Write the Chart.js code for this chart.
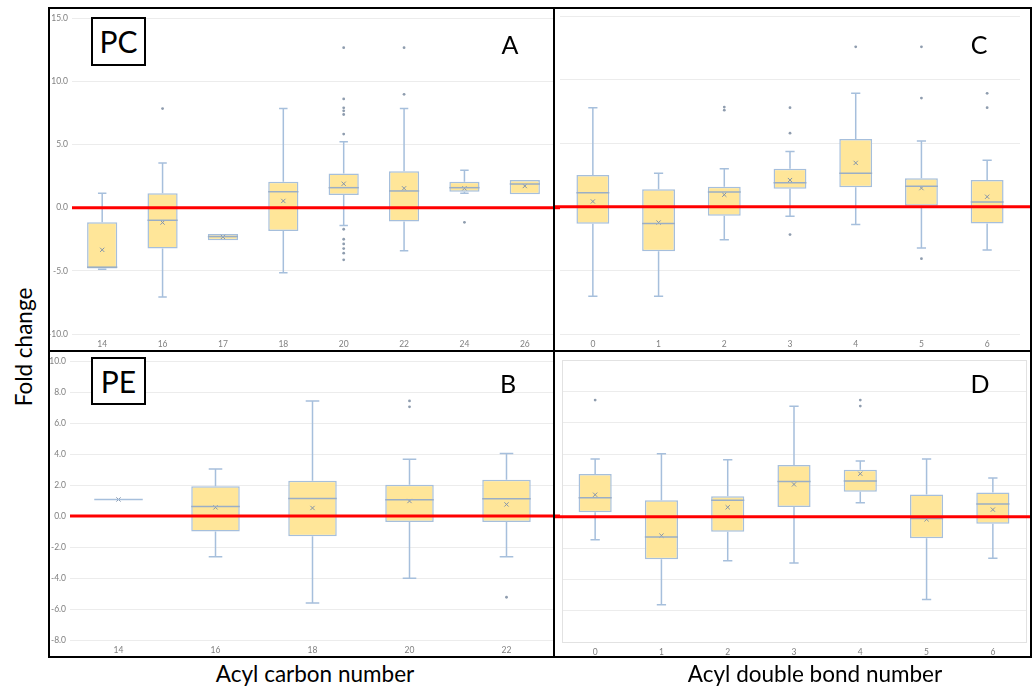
<!DOCTYPE html>
<html>
<head>
<meta charset="utf-8">
<script src="https://cdn.jsdelivr.net/npm/chart.js@4.4.1/dist/chart.umd.min.js"></script>
<style>
  body { margin: 0; background: #fff; width: 1036px; height: 687px; position: relative; overflow: hidden; font-family: Lato, "Open Sans", sans-serif; }
  canvas { position: absolute; }
  .rule { position: absolute; background: #000; z-index: 5; }
  .tag { position: absolute; border: 2px solid #000; box-sizing: border-box; font-size: 30px; line-height: 44px; text-align: center; background: #fff; z-index: 4; }
  .letter { position: absolute; font-size: 25px; line-height: 1; transform: translate(-50%, -50%); z-index: 4; }
  .title { position: absolute; font-size: 22.5px; line-height: 1; white-space: nowrap; transform: translate(-50%, -50%); }
</style>
</head>
<body>
<canvas id="chartA" width="510" height="341" style="left:50px;top:9px"></canvas>
<canvas id="chartC" width="476" height="341" style="left:555px;top:9px"></canvas>
<canvas id="chartB" width="510" height="305" style="left:50px;top:352px"></canvas>
<canvas id="chartD" width="476" height="305" style="left:555px;top:352px"></canvas>

<!-- panel frame -->
<div class="rule" style="left:48px;top:7px;width:984px;height:2px"></div>
<div class="rule" style="left:48px;top:656px;width:984px;height:2px"></div>
<div class="rule" style="left:48px;top:7px;width:2px;height:651px"></div>
<div class="rule" style="left:1030px;top:7px;width:2px;height:651px"></div>
<div class="rule" style="left:553px;top:7px;width:2px;height:651px"></div>
<div class="rule" style="left:48px;top:350px;width:984px;height:2px"></div>

<div class="tag" style="left:91px;top:17px;width:55px;height:49px">PC</div>
<div class="tag" style="left:91px;top:357px;width:55px;height:48px">PE</div>
<div class="letter" style="left:510px;top:44px">A</div>
<div class="letter" style="left:979px;top:44px">C</div>
<div class="letter" style="left:508px;top:383px">B</div>
<div class="letter" style="left:980px;top:383px">D</div>

<div class="title" style="left:24px;top:347px;transform:translate(-50%,-50%) rotate(-90deg)">Fold change</div>
<div class="title" style="left:315px;top:674px">Acyl carbon number</div>
<div class="title" style="left:815px;top:674px">Acyl double bond number</div>

<script>
// --- Panel A: PC by acyl carbon number ---
const pcCarbonLabels = ['14', '16', '17', '18', '20', '22', '24', '26'];
const pcCarbonLow    = [-4.87, -7.08, -2.58, -5.16, -1.42, -3.42, 1.13, 1.05];
const pcCarbonQ1     = [-4.82, -3.24, -2.58, -1.84, 1.00, -1.10, 1.26, 1.05];
const pcCarbonMedian = [-4.71, -1.00, -2.29, 1.26, 1.58, 1.32, 1.58, 1.87];
const pcCarbonQ3     = [-1.16, 1.13, -2.08, 2.05, 2.71, 2.87, 2.05, 2.18];
const pcCarbonHigh   = [1.13, 3.53, -2.08, 7.84, 5.21, 7.84, 2.95, 2.18];
const pcCarbonMean   = [-3.34, -1.18, -2.32, 0.53, 1.89, 1.53, 1.53, 1.71];
const pcCarbonOutliers = [[], [7.84], [], [], [12.66, 8.6, 7.9, 7.66, 7.37, 5.82, -1.71, -2.5, -2.87, -3.24, -3.6, -4.13], [12.66, 8.97], [-1.16], []];

// --- Panel C: PC by acyl double bond number ---
const pcBondLabels = ['0', '1', '2', '3', '4', '5', '6'];
const pcBondLow    = [-7.03, -7.03, -2.60, -0.74, -1.39, -3.24, -3.39];
const pcBondQ1     = [-1.34, -3.50, -0.71, 1.42, 1.53, 0.08, -1.32];
const pcBondMedian = [1.10, -1.32, 1.16, 1.89, 2.63, 1.61, 0.37];
const pcBondQ3     = [2.50, 1.37, 1.58, 3.00, 5.34, 2.24, 2.10];
const pcBondHigh   = [7.79, 2.63, 3.00, 4.34, 8.92, 5.18, 3.66];
const pcBondMean   = [0.42, -1.24, 0.95, 2.10, 3.45, 1.47, 0.79];
const pcBondOutliers = [[], [], [7.84, 7.6], [7.79, 5.79, -2.18], [12.58], [12.58, 8.55, -4.08], [8.92, 7.79]];

// --- Panel B: PE by acyl carbon number ---
const peCarbonLabels = ['14', '16', '18', '20', '22'];
const peCarbonLow    = [1.07, -2.62, -5.61, -4.02, -2.62];
const peCarbonQ1     = [1.07, -0.99, -1.31, -0.39, -0.39];
const peCarbonMedian = [1.07, 0.62, 1.14, 1.05, 1.12];
const peCarbonQ3     = [1.07, 1.93, 2.28, 2.02, 2.34];
const peCarbonHigh   = [1.07, 3.03, 7.43, 3.67, 4.04];
const peCarbonMean   = [1.07, 0.56, 0.52, 0.97, 0.75];
const peCarbonOutliers = [[], [], [], [7.43, 7.05], [-5.24]];

// --- Panel D: PE by acyl double bond number ---
const peBondLabels = ['0', '1', '2', '3', '4', '5', '6'];
const peBondLow    = [-1.47, -5.63, -2.81, -2.95, 0.89, -5.29, -2.66];
const peBondQ1     = [0.28, -2.72, -0.96, 0.62, 1.59, -1.38, -0.45];
const peBondMedian = [1.21, -1.30, 1.04, 2.25, 2.27, -0.11, 0.81];
const peBondQ3     = [2.72, 1.04, 1.30, 3.29, 3.00, 1.42, 1.55];
const peBondHigh   = [3.68, 4.02, 3.63, 7.04, 3.55, 3.68, 2.47];
const peBondMean   = [1.40, -1.21, 0.60, 2.06, 2.74, -0.17, 0.45];
const peBondOutliers = [[7.44], [], [], [], [7.44, 7.06], [], []];

// reference line (no change)
const zeroLine = 0;

const BOX_FILL = '#ffe699';
const BOX_EDGE = '#a6bfdc';
const MEDIAN_EDGE = '#9aaec6';
const MEAN_COLOR = '#8394ab';
const DOT_COLOR = '#8e9cae';
const GRID_COLOR = '#ececec';
const TICK_COLOR = '#808080';

// Draws whiskers, caps, medians and the red zero line using the chart scales
const makeBoxPlugin = (p) => ({
    id: 'boxParts',
    beforeDatasetsDraw(chart) {
        const { ctx } = chart;
        const x = chart.scales.x, y = chart.scales.y;
        const bars = chart.getDatasetMeta(0).data;
        ctx.save();
        ctx.strokeStyle = BOX_EDGE;
        ctx.lineWidth = 1.5;
        p.labels.forEach((lab, i) => {
            const cx = x.getPixelForValue(i);
            const cap = bars[i].width * 0.14;
            [[p.q3[i], p.high[i]], [p.q1[i], p.low[i]]].forEach(([from, to]) => {
                if (Math.abs(from - to) < 0.001) return;
                const y0 = y.getPixelForValue(from), y1 = y.getPixelForValue(to);
                ctx.beginPath();
                ctx.moveTo(cx, y0);
                ctx.lineTo(cx, y1);
                ctx.moveTo(cx - cap, y1);
                ctx.lineTo(cx + cap, y1);
                ctx.stroke();
            });
        });
        ctx.restore();
    },
    afterDatasetsDraw(chart) {
        const { ctx, chartArea } = chart;
        const x = chart.scales.x, y = chart.scales.y;
        const bars = chart.getDatasetMeta(0).data;
        ctx.save();
        // median lines
        ctx.lineWidth = 1.5;
        p.labels.forEach((lab, i) => {
            const cx = x.getPixelForValue(i);
            const hw = bars[i].width / 2;
            const ym = y.getPixelForValue(p.median[i]);
            ctx.strokeStyle = (p.q1[i] === p.q3[i]) ? BOX_EDGE : MEDIAN_EDGE;
            ctx.beginPath();
            ctx.moveTo(cx - hw, ym);
            ctx.lineTo(cx + hw, ym);
            ctx.stroke();
        });
        // plot outline (panel D only)
        if (p.outline) {
            ctx.strokeStyle = '#e2e2e2';
            ctx.lineWidth = 1;
            ctx.strokeRect(chartArea.left + 0.5, chartArea.top + 0.5, chartArea.width, chartArea.height);
        }
        // red zero line
        const yz = y.getPixelForValue(zeroLine);
        ctx.strokeStyle = '#ff0000';
        ctx.lineWidth = 3;
        ctx.beginPath();
        ctx.moveTo(p.redFromEdge ? 0 : chartArea.left, yz);
        ctx.lineTo(chart.width, yz);
        ctx.stroke();
        ctx.restore();
    }
});

const drawPanel = (canvasId, p) => {
    const outlierPoints = [];
    p.outliers.forEach((vals, i) => vals.forEach(v => outlierPoints.push({ x: p.labels[i], y: v })));

    new Chart(document.getElementById(canvasId), {
        data: {
            labels: p.labels,
            datasets: [
                {
                    type: 'bar',
                    data: p.q1.map((v, i) => [v, p.q3[i]]),
                    backgroundColor: BOX_FILL,
                    borderColor: BOX_EDGE,
                    borderWidth: 1.5,
                    borderSkipped: false,
                    barPercentage: 0.5,
                    categoryPercentage: 1.0,
                    order: 3
                },
                {
                    type: 'line',
                    data: p.mean.map((v, i) => ({ x: p.labels[i], y: v })),
                    showLine: false,
                    pointStyle: 'crossRot',
                    pointRadius: 3,
                    borderColor: MEAN_COLOR,
                    borderWidth: 1,
                    order: 1
                },
                {
                    type: 'line',
                    data: outlierPoints,
                    showLine: false,
                    pointStyle: 'circle',
                    pointRadius: 1.4,
                    backgroundColor: DOT_COLOR,
                    borderWidth: 0,
                    order: 2
                }
            ]
        },
        options: {
            responsive: false,
            animation: false,
            events: [],
            layout: { padding: { top: p.padTop, right: p.padRight, left: 0, bottom: 0 } },
            plugins: { legend: { display: false }, tooltip: { enabled: false } },
            scales: {
                x: {
                    type: 'category',
                    offset: true,
                    grid: { display: false, drawTicks: false },
                    border: { display: false },
                    ticks: { color: TICK_COLOR, font: { family: 'Lato', size: 8.5 }, padding: 5, maxRotation: 0 },
                    afterFit: (scale) => { scale.height = p.xHeight; }
                },
                y: {
                    min: p.yMin,
                    max: p.yMax,
                    grid: { color: GRID_COLOR, lineWidth: 1, drawTicks: false },
                    border: { display: false },
                    ticks: {
                        display: p.showYTicks,
                        stepSize: p.step,
                        color: TICK_COLOR,
                        font: { family: 'Lato', size: 8.5 },
                        padding: 4,
                        callback: (v) => v.toFixed(1)
                    },
                    afterFit: (scale) => { scale.width = p.yWidth; }
                }
            }
        },
        plugins: [makeBoxPlugin(p)]
    });
};

drawPanel('chartA', {
    labels: pcCarbonLabels, low: pcCarbonLow, q1: pcCarbonQ1, median: pcCarbonMedian,
    q3: pcCarbonQ3, high: pcCarbonHigh, mean: pcCarbonMean, outliers: pcCarbonOutliers,
    yMin: -10, yMax: 15, step: 5, showYTicks: true,
    yWidth: 22, xHeight: 16, padTop: 7, padRight: 3, redFromEdge: false
});
drawPanel('chartC', {
    labels: pcBondLabels, low: pcBondLow, q1: pcBondQ1, median: pcBondMedian,
    q3: pcBondQ3, high: pcBondHigh, mean: pcBondMean, outliers: pcBondOutliers,
    yMin: -10, yMax: 15, step: 5, showYTicks: false,
    yWidth: 2, xHeight: 16, padTop: 7, padRight: 11, redFromEdge: true
});
drawPanel('chartB', {
    labels: peCarbonLabels, low: peCarbonLow, q1: peCarbonQ1, median: peCarbonMedian,
    q3: peCarbonQ3, high: peCarbonHigh, mean: peCarbonMean, outliers: peCarbonOutliers,
    yMin: -8, yMax: 10, step: 2, showYTicks: true,
    yWidth: 20, xHeight: 17, padTop: 8, padRight: 3, redFromEdge: false
});
drawPanel('chartD', {
    labels: peBondLabels, low: peBondLow, q1: peBondQ1, median: peBondMedian,
    q3: peBondQ3, high: peBondHigh, mean: peBondMean, outliers: peBondOutliers,
    yMin: -8, yMax: 10, step: 2, showYTicks: false,
    yWidth: 7, xHeight: 15, padTop: 8, padRight: 5, redFromEdge: true, outline: true
});
</script>
</body>
</html>
